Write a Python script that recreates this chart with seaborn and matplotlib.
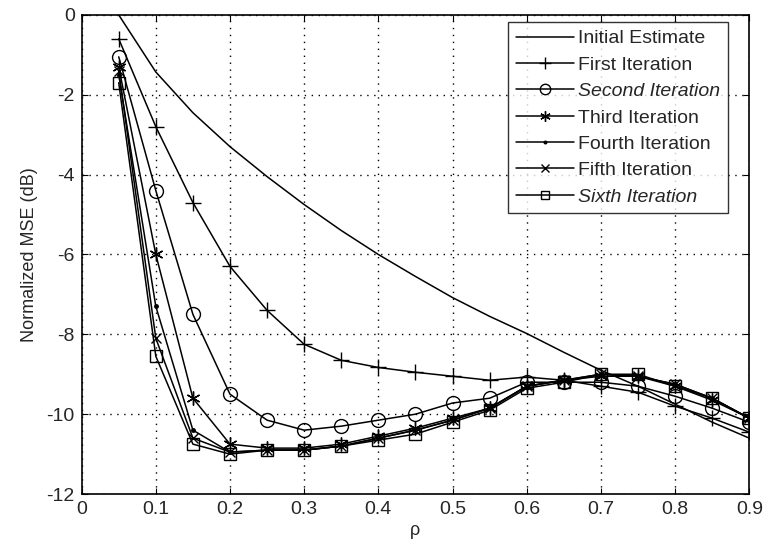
import matplotlib
matplotlib.use("Agg")
import matplotlib.pyplot as plt
import numpy as np
import pandas as pd
import seaborn as sns

# ── Data ─────────────────────────────────────────────────────────────────────
rho = [0.05, 0.10, 0.15, 0.20, 0.25, 0.30, 0.35, 0.40, 0.45,
       0.50, 0.55, 0.60, 0.65, 0.70, 0.75, 0.80, 0.85, 0.90]

initial = [0.0, -1.43, -2.45, -3.3, -4.05, -4.75, -5.4, -6.0, -6.55,
           -7.08, -7.55, -7.98, -8.45, -8.9, -9.3, -9.75, -10.2, -10.6]
first = [-0.6, -2.8, -4.7, -6.3, -7.4, -8.25, -8.65, -8.83, -8.95,
         -9.05, -9.15, -9.07, -9.15, -9.3, -9.45, -9.8, -10.1, -10.45]
second = [-1.05, -4.4, -7.5, -9.5, -10.15, -10.4, -10.3, -10.15, -10.0,
          -9.72, -9.6, -9.2, -9.2, -9.2, -9.3, -9.55, -9.85, -10.2]
third = [-1.3, -6.0, -9.6, -10.75, -10.85, -10.85, -10.75, -10.55, -10.35,
         -10.1, -9.85, -9.3, -9.15, -9.05, -9.05, -9.3, -9.65, -10.1]
fourth = [-1.5, -7.3, -10.4, -10.95, -10.9, -10.9, -10.8, -10.6, -10.4,
          -10.15, -9.85, -9.3, -9.15, -9.0, -9.05, -9.25, -9.6, -10.1]
fifth = [-1.4, -8.1, -10.6, -10.95, -10.9, -10.9, -10.8, -10.6, -10.4,
         -10.15, -9.85, -9.3, -9.15, -9.0, -9.05, -9.25, -9.6, -10.1]
sixth = [-1.7, -8.55, -10.75, -11.0, -10.9, -10.9, -10.8, -10.65, -10.5,
         -10.2, -9.9, -9.35, -9.2, -9.0, -9.0, -9.3, -9.6, -10.1]

labels = ["Initial Estimate", "First Iteration", "Second Iteration",
          "Third Iteration", "Fourth Iteration", "Fifth Iteration",
          "Sixth Iteration"]
series = [initial, first, second, third, fourth, fifth, sixth]
markers = [None, "+", "o", (6, 2, 0), ".", "x", "s"]
msizes = [0, 11, 10, 10, 5, 7, 8]

df = pd.DataFrame({lab: vals for lab, vals in zip(labels, series)})
df["rho"] = rho

# ── Style ────────────────────────────────────────────────────────────────────
sns.set_style("ticks")
plt.rcParams["font.family"] = ["Liberation Sans", "DejaVu Sans"]
plt.rcParams["font.size"] = 12
plt.rcParams["axes.unicode_minus"] = False

fig = plt.figure(figsize=(7.63, 5.52), dpi=100)
ax = fig.add_axes([0.107, 0.105, 0.875, 0.868])

for lab, mk, ms in zip(labels, markers, msizes):
    hollow = mk in ("o", "s")
    sns.lineplot(data=df, x="rho", y=lab, ax=ax, color="black", lw=1.1,
                 marker=mk if mk is not None else "", markersize=ms,
                 markerfacecolor="none" if hollow else "black",
                 markeredgecolor="black", markeredgewidth=1.0, label=lab)

ax.set_xlim(0, 0.9)
ax.set_ylim(-12, 0)
ax.set_xticks(np.arange(0, 0.91, 0.1))
ax.set_xticklabels(["0", "0.1", "0.2", "0.3", "0.4", "0.5", "0.6", "0.7",
                    "0.8", "0.9"])
ax.set_yticks(np.arange(-12, 0.1, 2))
ax.set_xlabel("ρ", fontsize=13, labelpad=3)
ax.set_ylabel("Normalized MSE (dB)", fontsize=13, labelpad=6)
ax.tick_params(labelsize=14, direction="in", length=4, color="black",
               top=True, right=True, pad=5)
ax.grid(True, color="black", linestyle=(0, (1, 4)), linewidth=1.0)
for sp in ax.spines.values():
    sp.set_color("black")
    sp.set_linewidth(1.2)

leg = ax.legend(loc="upper right", frameon=True, fancybox=False,
                edgecolor="black", fontsize=14, handlelength=3.0,
                borderpad=0.4, labelspacing=0.45, handletextpad=0.2,
                borderaxespad=0, markerscale=0.75,
                bbox_to_anchor=(0.968, 0.985))
leg.get_frame().set_linewidth(1.0)
for t in leg.get_texts():
    if t.get_text() in ("Second Iteration", "Sixth Iteration"):
        t.set_style("italic")

fig.savefig("out.png", dpi=100, facecolor="white")
